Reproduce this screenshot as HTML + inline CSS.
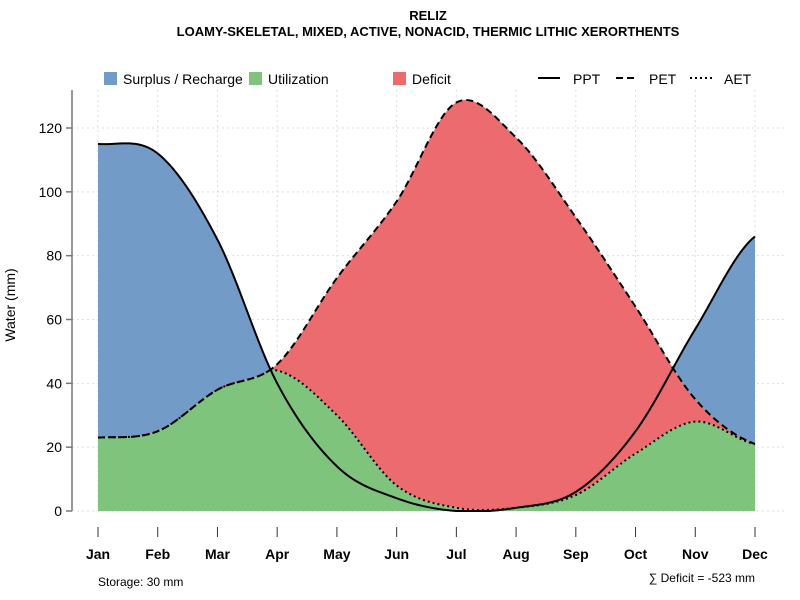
<!DOCTYPE html>
<html><head><meta charset="utf-8"><style>
body{margin:0;background:#fff;}
svg{display:block;font-family:"Liberation Sans",sans-serif;}
</style></head><body>
<svg id="c" width="800" height="600"></svg>
<script>
const months=["Jan","Feb","Mar","Apr","May","Jun","Jul","Aug","Sep","Oct","Nov","Dec"];
const ppt=[115,112,85,40,14,4,0,1,6,25,57,86];
const pet=[23,25,38,46,73,97,128,117,92,64,35,21];
const aet=[23,25,38,44,30,8,1,1,5,18,28,21];
const yTicks=[0,20,40,60,80,100,120];
const NS="http://www.w3.org/2000/svg";
const svg=document.getElementById('c');
const X=i=>98+i*(755-98)/11;
const Y=v=>511-v*(511-128)/120;
function mk(t,a,p){const e=document.createElementNS(NS,t);for(const k in a)e.setAttribute(k,a[k]);(p||svg).appendChild(e);return e;}
function interp(arr,t){
  const i=Math.min(Math.floor(t),arr.length-2),u=t-i;
  const p0=arr[Math.max(i-1,0)],p1=arr[i],p2=arr[i+1],p3=arr[Math.min(i+2,arr.length-1)];
  return 0.5*((2*p1)+(-p0+p2)*u+(2*p0-5*p1+4*p2-p3)*u*u+(-p0+3*p1-3*p2+p3)*u*u*u);
}
const N=440,ts=[];for(let k=0;k<=N;k++)ts.push(k*11/N);
const P=ts.map(t=>Math.max(0,interp(ppt,t))),E=ts.map(t=>Math.max(0,interp(pet,t))),A=ts.map(t=>Math.min(Math.max(0,interp(aet,t)),interp(pet,t)));
const grid=mk('g',{});
yTicks.forEach(v=>mk('line',{x1:72,x2:785,y1:Y(v),y2:Y(v),stroke:'#ddd','stroke-dasharray':'2,3'},grid));
months.forEach((m,i)=>mk('line',{x1:X(i),x2:X(i),y1:90,y2:511,stroke:'#ddd','stroke-dasharray':'2,3'},grid));
function area(top,bot,fill,name){let d='M';ts.forEach((t,k)=>d+=X(t).toFixed(2)+','+Y(top[k]).toFixed(2)+' L');for(let k=N;k>=0;k--)d+=X(ts[k]).toFixed(2)+','+Y(bot[k]).toFixed(2)+(k?' L':' Z');const e=mk('path',{d:d,fill:fill});}
area(P.map((p,k)=>Math.max(p,E[k])),E,'#729bc8','surplus-area');
area(E,A,'#ec6b6e','deficit-area');
area(A,A.map(()=>0),'#7fc47d','utilization-area');
function line(arr,dash,name){let d='M';ts.forEach((t,k)=>d+=X(t).toFixed(2)+','+Y(arr[k]).toFixed(2)+(k<N?' L':''));const e=mk('path',{d:d,fill:'none',stroke:'#000','stroke-width':2,'stroke-dasharray':dash});}
line(A,'2,3','aet-line');line(E,'7,4','pet-line');line(P,'none','ppt-line');
mk('line',{x1:72,x2:72,y1:90,y2:511,stroke:'#777','stroke-width':1.5});
yTicks.forEach(v=>{mk('line',{x1:66,x2:72,y1:Y(v),y2:Y(v),stroke:'#777','stroke-width':1.5});const t=mk('text',{x:62,y:Y(v)+5,'text-anchor':'end','font-size':14});t.textContent=v;});
months.forEach((m,i)=>{mk('line',{x1:X(i),x2:X(i),y1:527,y2:537,stroke:'#333'});const t=mk('text',{x:X(i),y:559,'text-anchor':'middle','font-size':14,'font-weight':'bold'});t.textContent=m;});
</script>
<svg width="800" height="600" style="position:absolute;left:0;top:0">
<text x="428" y="20" text-anchor="middle" font-size="13" font-weight="bold">RELIZ</text>
<text x="428" y="36" text-anchor="middle" font-size="13" font-weight="bold">LOAMY-SKELETAL, MIXED, ACTIVE, NONACID, THERMIC LITHIC XERORTHENTS</text>
<text transform="translate(15,305) rotate(-90)" text-anchor="middle" font-size="14">Water (mm)</text>
<g font-size="14">
<rect x="104" y="72" width="13" height="13" fill="#729bc8"/><text x="123" y="84">Surplus / Recharge</text>
<rect x="249" y="72" width="13" height="13" fill="#7fc47d"/><text x="268" y="84">Utilization</text>
<rect x="393" y="72" width="13" height="13" fill="#ec6b6e"/><text x="412" y="84">Deficit</text>
<line x1="538" x2="560" y1="78" y2="78" stroke="#000" stroke-width="2"/><text x="573" y="84">PPT</text>
<line x1="616" x2="638" y1="78" y2="78" stroke="#000" stroke-width="2" stroke-dasharray="7,4"/><text x="649" y="84">PET</text>
<line x1="690" x2="712" y1="78" y2="78" stroke="#000" stroke-width="2" stroke-dasharray="2,3"/><text x="724" y="84">AET</text>
</g>
<text x="98" y="586" font-size="12">Storage: 30 mm</text>
<text x="755" y="582" text-anchor="end" font-size="12">∑ Deficit = -523 mm</text>
</svg>
</body></html>
